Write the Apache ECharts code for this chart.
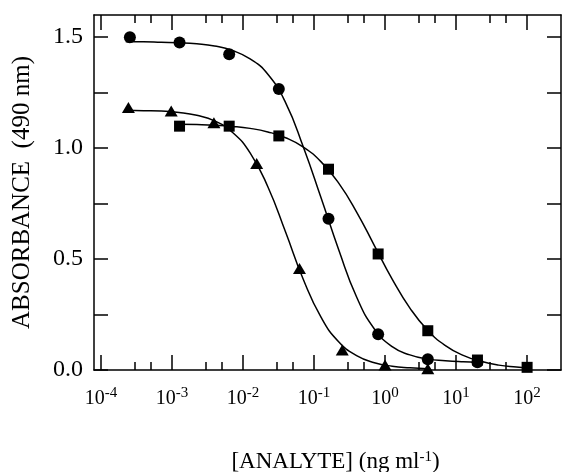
<!DOCTYPE html>
<html>
<head>
	<meta charset="utf-8">
	<title></title>
	<script src="https://cdn.jsdelivr.net/npm/echarts@6/dist/echarts.min.js"></script>
</head>
<body style="margin: 0; background: #fff;">
	<div id="main" style="width: 563px; height: 472px;"></div>
	<script>
		// measured points (concentration in ng/ml, absorbance at 490 nm)
		var circleX = [0.000256, 0.00128, 0.0064, 0.032, 0.16, 0.8, 4, 20]
		var circleY = [1.50, 1.476, 1.423, 1.266, 0.682, 0.161, 0.048, 0.035]
		var squareX = [0.00128, 0.0064, 0.032, 0.16, 0.8, 4, 20, 100]
		var squareY = [1.099, 1.099, 1.055, 0.905, 0.523, 0.177, 0.045, 0.012]
		var triangleX = [0.000244, 0.000977, 0.0039, 0.0156, 0.0625, 0.25, 1, 4]
		var triangleY = [1.183, 1.167, 1.114, 0.931, 0.458, 0.09, 0.023, 0.006]

		// fitted curves, every quarter decade
		var circleCurveX = [0.000224, 0.000398, 0.000708, 0.00126, 0.00224, 0.00398, 0.00708, 0.0126, 0.0224, 0.0398, 0.0708, 0.126, 0.224, 0.398, 0.708, 1.26, 2.24, 3.98, 7.08, 12.6, 20]
		var circleCurveY = [1.479, 1.479, 1.477, 1.475, 1.470, 1.460, 1.440, 1.402, 1.333, 1.205, 1.005, 0.775, 0.540, 0.329, 0.185, 0.105, 0.068, 0.049, 0.042, 0.037, 0.034]
		var squareCurveX = [0.00126, 0.00224, 0.00398, 0.00708, 0.0126, 0.0224, 0.0398, 0.0708, 0.126, 0.224, 0.398, 0.708, 1.26, 2.24, 3.98, 7.08, 12.6, 22.4, 39.8, 70.8, 100]
		var squareCurveY = [1.108, 1.106, 1.103, 1.098, 1.089, 1.073, 1.047, 1.005, 0.938, 0.841, 0.712, 0.561, 0.410, 0.279, 0.179, 0.110, 0.066, 0.039, 0.022, 0.013, 0.009]
		var triangleCurveX = [0.000224, 0.000398, 0.000708, 0.00126, 0.00224, 0.00398, 0.00708, 0.0126, 0.0224, 0.0398, 0.0708, 0.126, 0.224, 0.398, 0.708, 1.26, 2.24, 3.98]
		var triangleCurveY = [1.171, 1.169, 1.167, 1.161, 1.148, 1.123, 1.072, 0.979, 0.826, 0.622, 0.408, 0.237, 0.126, 0.065, 0.033, 0.017, 0.010, 0.006]

		// axis ticks
		var majorTicks = [0.0001, 0.001, 0.01, 0.1, 1, 10, 100]
		var minorTicks = [0.0003, 0.0005, 0.003, 0.005, 0.03, 0.05, 0.3, 0.5, 3, 5, 30, 50]
		var yTicks = [0, 0.25, 0.5, 0.75, 1, 1.25, 1.5]
		var yLabels = [0, 0.5, 1, 1.5]

		function pairs(xs, ys) {
			return xs.map(function (x, i) { return [x, ys[i]] })
		}

		var font = "'Liberation Serif', 'Times New Roman', serif"
		var black = '#000'
		var gridBox = { left: 94, right: 2, top: 15, bottom: 102, containLabel: false, outerBoundsMode: 'none' }

		function xAx(gridIndex, pos, ticks, len, labels) {
			return {
				type: 'log', logBase: 10, gridIndex: gridIndex, position: pos,
				min: 0.00008, max: 300,
				axisLine: { show: gridIndex === 0, onZero: false, lineStyle: { color: black, width: 1.5 } },
				axisTick: { show: true, inside: true, length: len, customValues: ticks, lineStyle: { color: black, width: 1.5 } },
				axisLabel: labels ? {
					show: true, customValues: ticks, margin: 16, color: black,
					formatter: function (v) {
						var p = Math.round(Math.log(v) / Math.LN10)
						return '{b|10}{s|' + p + '}'
					},
					rich: {
						b: { fontFamily: font, fontSize: 20, lineHeight: 26, color: black },
						s: { fontFamily: font, fontSize: 15, lineHeight: 16, verticalAlign: 'top', color: black }
					}
				} : { show: false },
				splitLine: { show: false }
			}
		}

		function yAx(gridIndex, pos, labels) {
			return {
				type: 'value', gridIndex: gridIndex, position: pos,
				min: 0, max: 1.6,
				axisLine: { show: gridIndex === 0, onZero: false, lineStyle: { color: black, width: 1.5 } },
				axisTick: { show: gridIndex === 0, inside: true, length: 14, customValues: yTicks, lineStyle: { color: black, width: 1.5 } },
				axisLabel: labels ? {
					show: true, customValues: yLabels, margin: 11, color: black,
					fontFamily: font, fontSize: 24,
					formatter: function (v) { return v.toFixed(1) }
				} : { show: false },
				splitLine: { show: false }
			}
		}

		var xMain = xAx(0, 'bottom', majorTicks, 15, true)
		xMain.name = '[ANALYTE] (ng ml{s|-1})'
		xMain.nameLocation = 'middle'
		xMain.nameGap = 80
		xMain.nameTextStyle = {
			fontFamily: font, fontSize: 23, color: black, padding: [0, 0, 0, 16],
			rich: { s: { fontFamily: font, fontSize: 15, verticalAlign: 'top', lineHeight: 12, color: black } }
		}

		var yMain = yAx(0, 'left', true)
		yMain.name = 'ABSORBANCE  (490 nm)'
		yMain.nameLocation = 'middle'
		yMain.nameGap = 59
		yMain.nameTextStyle = { fontFamily: font, fontSize: 25, color: black }

		var lineStyle = { color: black, width: 1.5, opacity: 1 }
		var dot = { color: black, opacity: 1 }

		var opt = {
			backgroundColor: '#fff',
			animation: false,
			grid: [
				Object.assign({}, gridBox),
				Object.assign({}, gridBox)
			],
			xAxis: [
				xMain,
				xAx(0, 'top', majorTicks, 15, false),
				xAx(1, 'bottom', minorTicks, 8, false),
				xAx(1, 'top', minorTicks, 8, false)
			],
			yAxis: [
				yMain,
				yAx(0, 'right', false),
				yAx(1, 'left', false)
			],
			series: [
				{ type: 'line', data: pairs(circleCurveX, circleCurveY), smooth: 0.5, showSymbol: false, lineStyle: lineStyle },
				{ type: 'line', data: pairs(squareCurveX, squareCurveY), smooth: 0.5, showSymbol: false, lineStyle: lineStyle },
				{ type: 'line', data: pairs(triangleCurveX, triangleCurveY), smooth: 0.5, showSymbol: false, lineStyle: lineStyle },
				{ type: 'scatter', data: pairs(circleX, circleY), symbol: 'circle', symbolSize: 12, itemStyle: dot },
				{ type: 'scatter', data: pairs(squareX, squareY), symbol: 'rect', symbolSize: 11, itemStyle: dot },
				{ type: 'scatter', data: pairs(triangleX, triangleY), symbol: 'triangle', symbolSize: [13, 11], itemStyle: dot }
			]
		}

		var mCharts = echarts.init(document.getElementById('main'))
		mCharts.setOption(opt)
	</script>
</body>
</html>
